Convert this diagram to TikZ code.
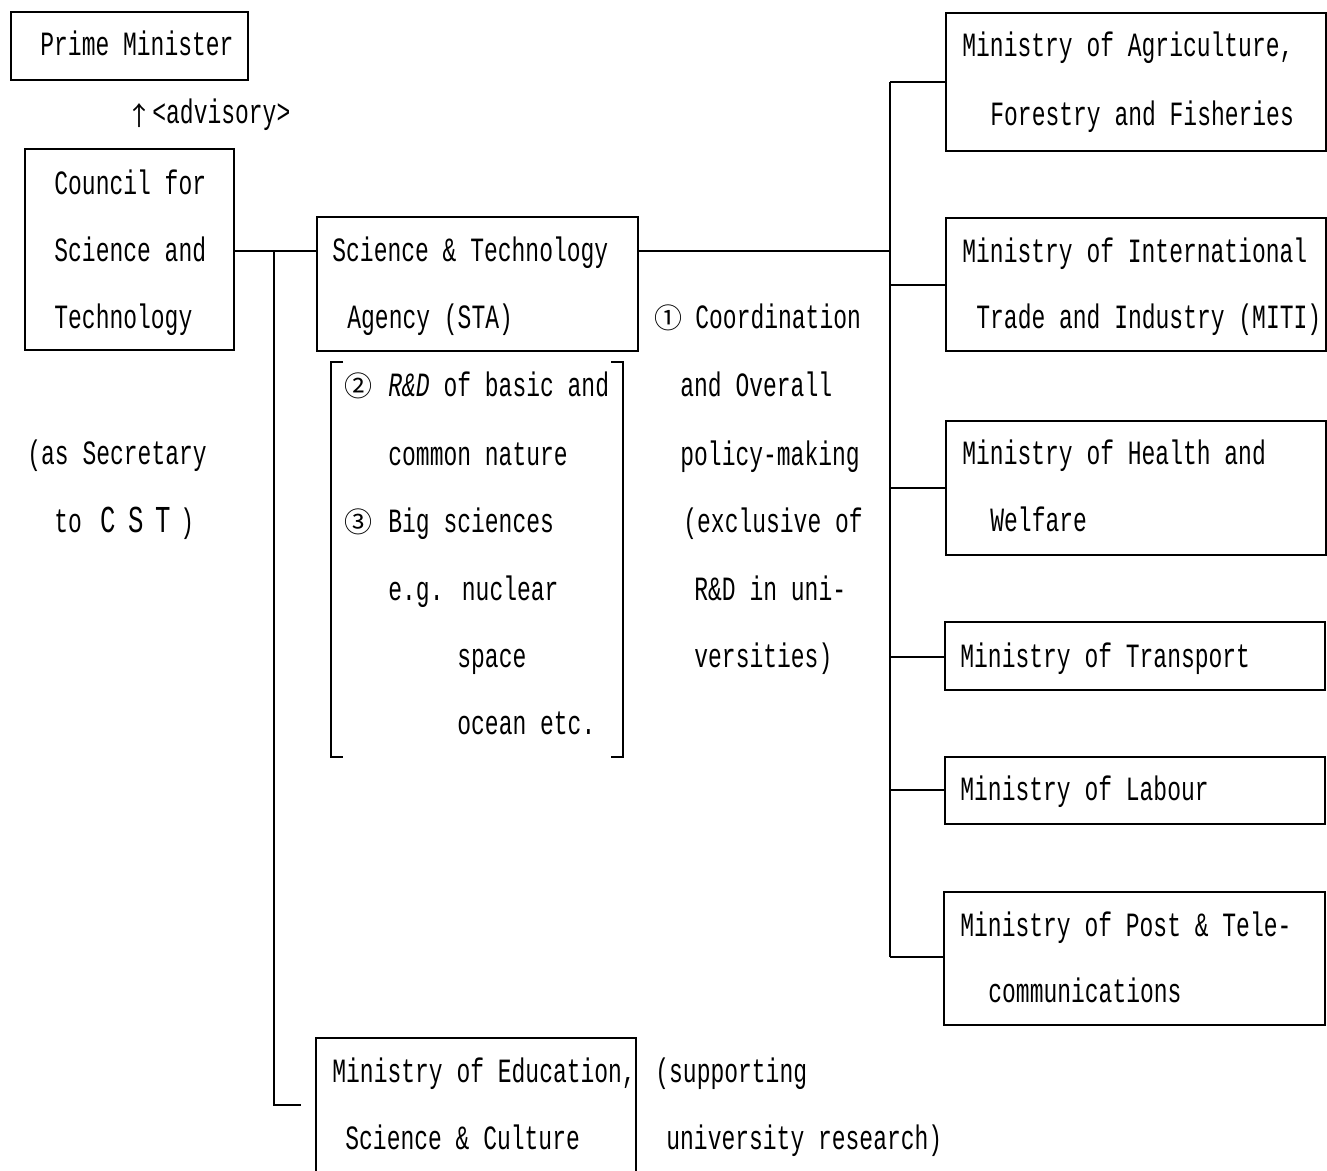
\documentclass[tikz,border=0pt]{standalone}
\usepackage{fontspec}
\setmainfont[FakeStretch=0.676]{Liberation Mono}
\newfontfamily\symfont{DejaVu Sans}
\newfontfamily\cjkfont{Noto Sans CJK JP}
\usetikzlibrary{fit}
\begin{document}
\begin{tikzpicture}[x=0.5pt,y=-0.5pt,
  box/.style={draw,line width=0.7pt,inner sep=0pt},
  txt/.style={anchor=base west,inner sep=0pt,font=\fontsize{17pt}{20pt}\selectfont},
  sym/.style={anchor=base west,inner sep=0pt,font=\cjkfont\fontsize{14pt}{17pt}\selectfont},
  con/.style={line width=0.7pt}]
\useasboundingbox (0,0) rectangle (1327,1171);
\clip (0,0) rectangle (1327,1171);
% boxes
\node[box,fit={(11,12) (248,80)}] (pm) {};
\node[box,fit={(25,149) (234,350)}] (cst) {};
\node[box,fit={(317,217) (638,351)}] (sta) {};
\node[box,fit={(316,1038) (636,1200)}] (edu) {};
\node[box,fit={(946,13) (1326,151)}] (agr) {};
\node[box,fit={(946,218) (1326,351)}] (miti) {};
\node[box,fit={(946,421) (1326,555)}] (hw) {};
\node[box,fit={(945,622) (1325,690)}] (tr) {};
\node[box,fit={(945,757) (1325,824)}] (lab) {};
\node[box,fit={(944,892) (1325,1025)}] (pt) {};
% bracket
\draw[con] (343,362) -- (331,362) -- (331,757) -- (343,757);
\draw[con] (611,362) -- (623,362) -- (623,757) -- (611,757);
% texts
\node[txt] (t1) at (40,56) {Prime Minister};
\node[anchor=base west,inner sep=0pt,font=\cjkfont\fontsize{13pt}{14pt}\selectfont] (arr) at (126,126) {↑};
\node[txt] (t2) at (152,124) {<advisory>};
\node[txt] at (54,195) {Council for};
\node[txt] at (54,262) {Science and};
\node[txt] at (54,329) {Technology};
\node[txt] at (332,262) {Science \& Technology};
\node[txt] at (347,329) {Agency (STA)};
\node[sym] at (344,397) {②};
\node[txt] at (388,397) {\textit{R\&D} of basic and};
\node[txt] at (388,465) {common nature};
\node[sym] at (344,532) {③};
\node[txt] at (388,532) {Big sciences};
\node[txt] at (388,600) {e.g. nuclear};
\node[txt] at (457,667) {space};
\node[txt] at (457,734) {ocean etc.};
\node[sym] at (654,329) {①};
\node[txt] at (695,329) {Coordination};
\node[txt] at (680,397) {and Overall};
\node[txt] at (680,465) {policy-making};
\node[txt] at (683,532) {(exclusive of};
\node[txt] at (694,600) {R\&D in uni-};
\node[txt] at (694,667) {versities)};
\node[txt] at (27,464) {(as Secretary};
\node[txt] at (54,532) {to};
\node[txt,font=\fontsize{19pt}{20pt}\selectfont] at (100,532) {C};
\node[txt,font=\fontsize{19pt}{20pt}\selectfont] at (128,532) {S};
\node[txt,font=\fontsize{19pt}{20pt}\selectfont] at (155,532) {T};
\node[txt] at (180,532) {)};
\node[txt] at (962,57) {Ministry of Agriculture,};
\node[txt] at (990,126) {Forestry and Fisheries};
\node[txt] at (962,263) {Ministry of International};
\node[txt] at (976,329) {Trade and Industry (MITI)};
\node[txt] at (962,464) {Ministry of Health and};
\node[txt] at (990,531) {Welfare};
\node[txt] at (960,667) {Ministry of Transport};
\node[txt] at (960,800) {Ministry of Labour};
\node[txt] at (960,936) {Ministry of Post \& Tele-};
\node[txt] at (988,1002) {communications};
\node[txt] at (332,1082) {Ministry of Education,};
\node[txt] at (345,1149) {Science \& Culture};
\node[txt] at (655,1082) {(supporting};
\node[txt] at (666,1149) {university research)};
% connectors
\coordinate (jL) at (274,251);
\coordinate (eduEnd) at (301,1105);
\coordinate (jR) at (890,251);
\coordinate (b1) at (890,82);
\coordinate (b2) at (890,285);
\coordinate (b3) at (890,488);
\coordinate (b4) at (890,657);
\coordinate (b5) at (890,790);
\coordinate (b6) at (890,957);
\draw[con] (cst.east |- jL) -- (sta.west |- jL);
\draw[con] (jL) |- (eduEnd);
\draw[con] (sta.east |- jR) -- (jR);
\draw[con] (b1) -- (b6);
\draw[con] (b1) -- (agr.west |- b1);
\draw[con] (b2) -- (miti.west |- b2);
\draw[con] (b3) -- (hw.west |- b3);
\draw[con] (b4) -- (tr.west |- b4);
\draw[con] (b5) -- (lab.west |- b5);
\draw[con] (b6) -- (pt.west |- b6);
\end{tikzpicture}
\end{document}
